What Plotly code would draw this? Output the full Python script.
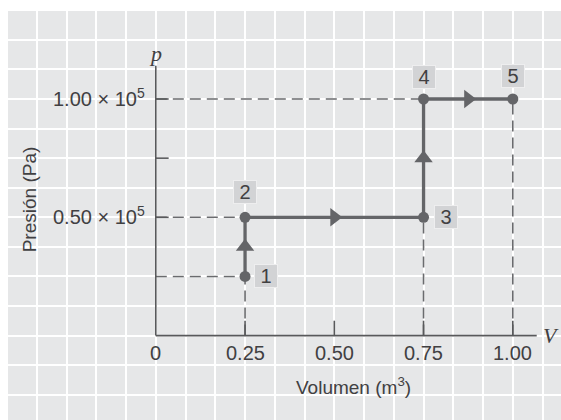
import plotly.graph_objects as go

# ---- data ----
volume = [0.25, 0.25, 0.75, 0.75, 1.00]
pressure = [0.25e5, 0.50e5, 0.50e5, 1.00e5, 1.00e5]
point_labels = ["1", "2", "3", "4", "5"]
x_tick_vals = [0, 0.25, 0.50, 0.75, 1.00]
x_tick_text = ["0", "0.25", "0.50", "0.75", "1.00"]
y_tick_vals = [0.50e5, 1.00e5]
y_tick_text = ["0.50\u00a0×\u00a010<sup>5</sup>", "1.00\u00a0×\u00a010<sup>5</sup>"]
y_minor_ticks = [0.75e5]
h_guides = [0, 1, 3]   # points with dashed line to p-axis
v_guides = [0, 2, 4]   # points with dashed line to V-axis

# ---- styles ----
BG = "#e6e7e8"
LINE = "#646568"
AXIS = "#58595b"
TEXT = "#414042"
BOX = "#d2d3d5"
FONT = "Liberation Sans"

fig = go.Figure()

# dashed guide lines
gx, gy = [], []
for i in h_guides:
    gx += [0, volume[i], None]
    gy += [pressure[i], pressure[i], None]
for i in v_guides:
    gx += [volume[i], volume[i], None]
    gy += [0, pressure[i], None]
fig.add_trace(go.Scatter(x=gx, y=gy, mode="lines",
                         line=dict(color="#6a6b6e", width=1.6, dash="11px,6px"),
                         hoverinfo="skip", showlegend=False))

# axes lines
x_axis_end = 1.067
y_axis_end = 114000
fig.add_trace(go.Scatter(x=[0, x_axis_end, None, 0, 0], y=[0, 0, None, 0, y_axis_end],
                         mode="lines", line=dict(color=AXIS, width=1.6),
                         hoverinfo="skip", showlegend=False))
# tick marks
tx, ty = [], []
for v in x_tick_vals[1:]:
    tx += [v, v, None]
    ty += [0, 6300, None]
for p in y_tick_vals + y_minor_ticks:
    tx += [0, 0.036, None]
    ty += [p, p, None]
fig.add_trace(go.Scatter(x=tx, y=ty, mode="lines", line=dict(color=AXIS, width=1.6),
                         hoverinfo="skip", showlegend=False))

# process path
fig.add_trace(go.Scatter(x=volume, y=pressure, mode="lines+markers",
                         line=dict(color=LINE, width=3.3),
                         marker=dict(color=LINE, size=11),
                         hoverinfo="skip", showlegend=False))

# direction arrows at segment midpoints
ax, ay, sym = [], [], []
for i in range(len(volume) - 1):
    ax.append((volume[i] + volume[i + 1]) / 2)
    ay.append((pressure[i] + pressure[i + 1]) / 2)
    sym.append("triangle-up" if volume[i] == volume[i + 1] else "triangle-right")
fig.add_trace(go.Scatter(x=ax, y=ay, mode="markers",
                         marker=dict(color=LINE, size=16, symbol=sym, line=dict(width=0)),
                         hoverinfo="skip", showlegend=False))

annotations = []
# point label boxes
offsets = [(21, 0), (0, 25), (22, 0), (0, 22.5), (0, 23)]
for i, lab in enumerate(point_labels):
    dx, dy = offsets[i]
    annotations.append(dict(x=volume[i], y=pressure[i], text=lab, showarrow=False,
                            xshift=dx, yshift=dy, width=22, height=22,
                            bgcolor=BOX, bordercolor="#eeeeef", borderwidth=1, borderpad=0,
                            font=dict(family=FONT, size=20, color=TEXT)))
# x tick labels
for v, t in zip(x_tick_vals, x_tick_text):
    annotations.append(dict(x=v, y=0, text=t, showarrow=False, yanchor="middle", yshift=-17,
                            font=dict(family=FONT, size=20, color=TEXT)))
# y tick labels
for p, t in zip(y_tick_vals, y_tick_text):
    annotations.append(dict(x=0, y=p, text=t, showarrow=False, xanchor="right", xshift=-9,
                            yanchor="middle", yshift=2,
                            font=dict(family=FONT, size=20, color=TEXT)))
# axis titles
annotations.append(dict(x=0.5524, y=-21175, text="Volumen (m<sup>3</sup>)", showarrow=False,
                        font=dict(family=FONT, size=19, color=TEXT)))
annotations.append(dict(x=-0.3543, y=57734, text="Presión (Pa)", showarrow=False, textangle=-90,
                        font=dict(family=FONT, size=19, color=TEXT)))
annotations.append(dict(x=0, y=y_axis_end, text="<i>p</i>", showarrow=False, yanchor="bottom",
                        yshift=-2, font=dict(family="Liberation Serif", size=22, color=TEXT)))
annotations.append(dict(x=x_axis_end, y=0, text="<i>V</i>", showarrow=False, xanchor="left",
                        xshift=4, font=dict(family="Liberation Serif", size=22, color=TEXT)))

fig.update_layout(
    width=561, height=420,
    margin=dict(l=8, r=0, t=11, b=0),
    paper_bgcolor="white", plot_bgcolor=BG,
    annotations=annotations,
    hovermode=False,
    xaxis=dict(range=[-0.414, 1.135], showgrid=True, gridcolor="white", gridwidth=1.6,
               tick0=0, dtick=1 / 12, showticklabels=False, zeroline=False, showline=False,
               ticks="", fixedrange=True),
    yaxis=dict(range=[-35672, 137193], showgrid=True, gridcolor="white", gridwidth=1.6,
               tick0=0, dtick=12500, showticklabels=False, zeroline=False, showline=False,
               ticks="", fixedrange=True),
)

# remove the browser's default page margin so the figure fills the window exactly
fig.write_html("out.html", config={"displayModeBar": False},
               post_script="document.body.style.margin='0';document.body.style.overflow='hidden';")
